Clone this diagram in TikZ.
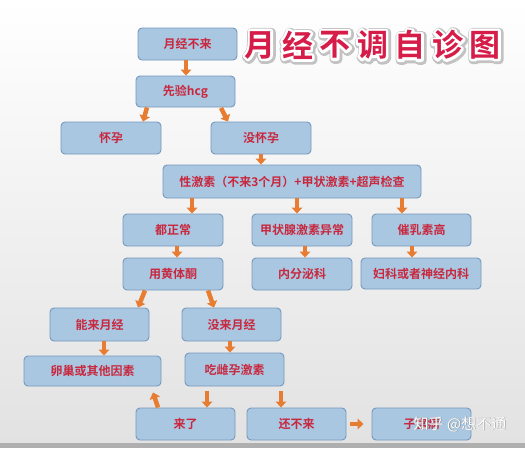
\documentclass[tikz,border=0pt]{standalone}
\usepackage{fontspec}
\setmainfont{Noto Sans CJK SC}[BoldFont={Noto Sans CJK SC Bold}]
\usetikzlibrary{arrows.meta}
\definecolor{boxfill}{RGB}{170,199,226}
\definecolor{boxline}{RGB}{118,152,188}
\definecolor{txtred}{RGB}{200,40,62}
\definecolor{arrorange}{RGB}{230,125,50}
\definecolor{titlered}{RGB}{214,28,72}
\definecolor{bgbottom}{RGB}{226,226,226}
\definecolor{stripgray}{RGB}{175,175,175}
\begin{document}
\begin{tikzpicture}[x=1pt,y=-1pt,
  box/.style={draw=boxline,line width=0.9pt,fill=boxfill,rounded corners=4pt,
    minimum height=32pt,minimum width=99pt,inner sep=0pt,
    font=\bfseries\fontsize{12}{12}\selectfont,text=txtred},
  arr/.style={draw=arrorange,line width=4.5pt,-{Triangle[width=10.5pt,length=6pt]}},
  titlech/.style={font=\bfseries\fontsize{31}{31}\selectfont,inner sep=0pt}
]
\useasboundingbox (0,0) rectangle (525,448);
\shade[top color=white,bottom color=bgbottom] (0,0) rectangle (525,443);
\fill[stripgray] (0,443) rectangle (525,448);

% title: per character, shadow outline, white outline, red fill
\foreach \ch [count=\i] in {月,经,不,调,自,诊,图}{
  \pgfmathsetmacro\cx{260+37.5*(\i-1)}
  \node[titlech] (ts\i) at ({\cx+1},46) {\special{pdf:literal 2 Tr 8.5 w 1 j 1 J}\color{black!24}\ch\special{pdf:literal 0 Tr}};
  \node[titlech] (tw\i) at (\cx,45) {\special{pdf:literal 2 Tr 5 w 1 j 1 J}\color{white}\ch\special{pdf:literal 0 Tr}};
  \node[titlech,text=titlered] (t\i) at (\cx,45) {\ch};
}

% boxes
\node[box] (n1) at (187.5,44) {月经不来};
\node[box,minimum height=31pt] (n2) at (185.5,91.5) {先验hcg};
\node[box,minimum width=100pt] (n3) at (111,138) {怀孕};
\node[box,minimum width=100pt] (n4) at (261,138) {没怀孕};
\node[box,minimum width=258pt,minimum height=33pt] (n5) at (292,181.5) {性激素（不来3个月）+甲状激素+超声检查};
\node[box,minimum width=100pt] (n6) at (173,230) {都正常};
\node[box,minimum width=100pt] (n7) at (302,230) {甲状腺激素异常};
\node[box] (n8) at (421.5,230) {催乳素高};
\node[box,minimum width=100pt] (n9) at (173,274) {用黄体酮};
\node[box,minimum width=100pt] (n10) at (302,274) {内分泌科};
\node[box,minimum width=120pt,minimum height=31pt] (n11) at (421,273.5) {妇科或者神经内科};
\node[box,minimum height=33pt] (n12) at (99.5,324.5) {能来月经};
\node[box,minimum height=33pt] (n13) at (231.5,324.5) {没来月经};
\node[box,minimum width=137pt,minimum height=30pt] (n14) at (92.5,371) {卵巢或其他因素};
\node[box,minimum height=33pt] (n15) at (234.5,369.5) {吃雌孕激素};
\node[box] (n16) at (185.5,424) {来了};
\node[box] (n17) at (296.5,424) {还不来};
\node[box] (n18) at (421.5,424) {子宫病};

% arrows
\draw[arr] ([xshift=-1.5pt]n1.south) -- ([xshift=0.5pt]n2.north);
\draw[arr] ([xshift=-38.5pt]n2.south) -- ([xshift=32pt]n3.north);
\draw[arr] ([xshift=35.5pt,yshift=-0.5pt]n2.south) -- ([xshift=-33pt]n4.north);
\draw[arr] (n4.south) -- (n4.south |- n5.north);
\draw[arr] ([xshift=-100pt]n5.south) -- ([xshift=19pt]n6.north);
\draw[arr] ([xshift=5pt]n5.south) -- ([xshift=-5pt]n7.north);
\draw[arr] ([xshift=110pt]n5.south) -- ([xshift=-19.5pt]n8.north);
\draw[arr] ([xshift=4pt]n6.south) -- ([xshift=4pt]n9.north);
\draw[arr] ([xshift=3pt]n7.south) -- ([xshift=3pt]n10.north);
\draw[arr] ([xshift=-9.5pt]n8.south) -- ([xshift=-9pt]n11.north);
\draw[arr] ([xshift=-28pt]n9.south) -- ([xshift=38.5pt]n12.north);
\draw[arr] ([xshift=35pt]n9.south) -- ([xshift=-17.5pt]n13.north);
\draw[arr] ([xshift=4.5pt]n12.south) -- ([xshift=11.5pt]n14.north);
\draw[arr] ([xshift=-1.5pt]n13.south) -- ([xshift=-4.5pt]n15.north);
\draw[arr] ([xshift=-27.5pt,yshift=-5pt]n15.south) -- ([xshift=21.5pt]n16.north);
\draw[arr] ([xshift=46.5pt,yshift=-5pt]n15.south) -- ([xshift=-15.5pt]n17.north);
\draw[arr] ([xshift=-27.5pt]n16.north) -- ([xshift=60.5pt,yshift=-6pt]n14.south);
\draw[arr] ([xshift=4pt]n17.east) -- ([xshift=-8pt]n18.west);

% watermark
\node[text=black!45,font=\fontsize{15}{15}\selectfont,inner sep=0pt] (wms) at (460.7,424.7) {知乎 @想不通};
\node[text=white,font=\fontsize{15}{15}\selectfont,inner sep=0pt] (wm) at (460,424) {知乎 @想不通};
\end{tikzpicture}
\end{document}
